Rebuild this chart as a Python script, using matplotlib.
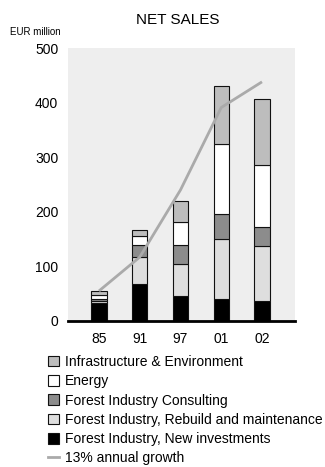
import numpy as np
import matplotlib
matplotlib.use("Agg")
import matplotlib.pyplot as plt
from matplotlib.patches import Patch
from matplotlib.lines import Line2D

plt.rcParams['font.family'] = ['Liberation Sans Narrow', 'Liberation Sans', 'DejaVu Sans']

# Net sales by business area, EUR million
years = ["85", "91", "97", "01", "02"]
new_invest = [33, 68, 45, 40, 37]
rebuild = [4, 50, 59, 110, 100]
consulting = [3, 21, 36, 46, 36]
energy = [7, 17, 42, 128, 112]
infra = [8, 10, 38, 106, 122]
growth = [55, 117, 240, 391, 438]

series = [
    ("Forest Industry, New investments", new_invest, "#000000"),
    ("Forest Industry, Rebuild and maintenance", rebuild, "#dedede"),
    ("Forest Industry Consulting", consulting, "#8c8c8c"),
    ("Energy", energy, "#ffffff"),
    ("Infrastructure & Environment", infra, "#bdbdbd"),
]

fig = plt.figure(figsize=(3.25, 4.67), dpi=100)
ax = fig.add_axes([68 / 325, 1 - 321 / 467, 227 / 325, 273 / 467])
ax.set_facecolor("#eeeeee")

x = np.arange(len(years))
bottom = np.zeros(len(years))
for name, vals, col in series:
    ax.bar(x, vals, width=0.37, bottom=bottom, color=col,
           edgecolor="#111111", linewidth=0.8, zorder=2)
    bottom += np.array(vals)

ax.plot(x, growth, color="#aaaaaa", linewidth=2, zorder=3, solid_capstyle="butt")

ax.set_xlim(-0.76, 4.81)
ax.set_ylim(0, 500)
ax.set_yticks([0, 100, 200, 300, 400, 500])
ax.set_xticks(x)
ax.set_xticklabels(years)
ax.tick_params(length=0, labelsize=10, pad=8)
ax.tick_params(axis="y", pad=7)
for s in ["top", "right", "left"]:
    ax.spines[s].set_visible(False)
ax.spines["bottom"].set_linewidth(2)
ax.spines["bottom"].set_zorder(4)

fig.text(178 / 325, 1 - 20 / 467, "NET SALES", ha="center", va="center", fontsize=11)
fig.text(35 / 325, 1 - 32 / 467, "EUR million", ha="center", va="center", fontsize=7)

handles = [Patch(facecolor=col, edgecolor="#111111", linewidth=0.8, label=name)
           for name, vals, col in series[::-1]]
handles.append(Line2D([0], [0], color="#aaaaaa", linewidth=2, label="13% annual growth"))
fig.legend(handles=handles, loc="upper left", bbox_to_anchor=(48 / 325, 1 - 355 / 467),
           frameon=False, fontsize=10, handlelength=0.8, handleheight=0.8,
           handletextpad=0.4, labelspacing=0.38, borderpad=0, borderaxespad=0)

fig.savefig("out.png", dpi=100)
